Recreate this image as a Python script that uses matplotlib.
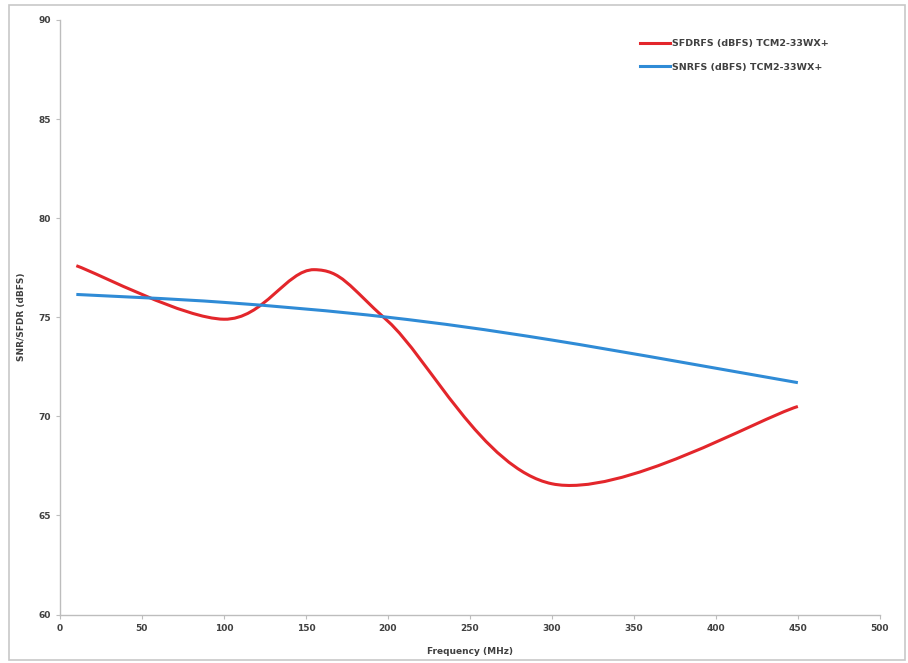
import matplotlib
matplotlib.use("Agg")
import matplotlib.pyplot as plt
from matplotlib.path import Path
from matplotlib.patches import PathPatch, Rectangle
from matplotlib.lines import Line2D
import numpy as np

sfdr_freq = [10, 100, 155, 200, 300, 450]
sfdr_dbfs = [77.6, 74.9, 77.4, 74.8, 66.6, 70.5]
snr_freq = [10, 100, 200, 300, 450]
snr_dbfs = [76.15, 75.75, 75.0, 73.85, 71.7]

x_ticks = [0, 50, 100, 150, 200, 250, 300, 350, 400, 450, 500]
y_ticks = [60, 65, 70, 75, 80, 85, 90]

RED = "#e3262b"
BLUE = "#2f8bd6"
GRAY = "#bdbdbd"


def smooth_path(xs, ys):
    # Excel-style smoothed line: cubic Bezier through each point
    pts = np.column_stack([xs, ys]).astype(float)
    verts = [pts[0]]
    codes = [Path.MOVETO]
    n = len(pts)
    for i in range(n - 1):
        p0 = pts[i - 1] if i > 0 else pts[i]
        p1 = pts[i]
        p2 = pts[i + 1]
        p3 = pts[i + 2] if i + 2 < n else pts[i + 1]
        c1 = p1 + (p2 - p0) / 6.0
        c2 = p2 - (p3 - p1) / 6.0
        verts += [c1, c2, p2]
        codes += [Path.CURVE4] * 3
    return Path(verts, codes)


fig = plt.figure(figsize=(9.08, 6.63), dpi=100)
fig.patches.append(Rectangle((0.01, 0.005), 0.987, 0.987, transform=fig.transFigure,
                             fill=False, edgecolor="#c8c8c8", linewidth=1.2))
ax = fig.add_axes([0.066, 0.073, 0.903, 0.897])

for xs, ys, color in [(sfdr_freq, sfdr_dbfs, RED), (snr_freq, snr_dbfs, BLUE)]:
    ax.add_patch(PathPatch(smooth_path(xs, ys), facecolor="none", edgecolor=color,
                           linewidth=2.2, capstyle="butt"))

ax.set_xlim(0, 500)
ax.set_ylim(60, 90)
ax.set_xticks(x_ticks)
ax.set_yticks(y_ticks)
ax.tick_params(labelsize=6.5, colors="#404040", length=3, color=GRAY, width=0.8)
for lab in ax.get_xticklabels() + ax.get_yticklabels():
    lab.set_fontweight("bold")
for side in ["top", "right"]:
    ax.spines[side].set_visible(False)
for side in ["left", "bottom"]:
    ax.spines[side].set_color(GRAY)
    ax.spines[side].set_linewidth(1.0)

ax.set_xlabel("Frequency (MHz)", fontsize=6.5, fontweight="bold", color="#404040", labelpad=10)
ax.set_ylabel("SNR/SFDR (dBFS)", fontsize=6.5, fontweight="bold", color="#404040", labelpad=9)

handles = [Line2D([], [], color=RED, linewidth=2.2),
           Line2D([], [], color=BLUE, linewidth=2.2)]
labels = ["SFDRFS (dBFS) TCM2-33WX+", "SNRFS (dBFS) TCM2-33WX+"]
leg = ax.legend(handles, labels, loc="upper left", bbox_to_anchor=(0.707, 0.968),
                frameon=False, borderaxespad=0, borderpad=0,
                handlelength=3.2, handletextpad=0.2, labelspacing=1.55,
                prop={"size": 6.8, "weight": "bold"})
for t in leg.get_texts():
    t.set_color("#404040")

fig.savefig("out.png", dpi=100)
